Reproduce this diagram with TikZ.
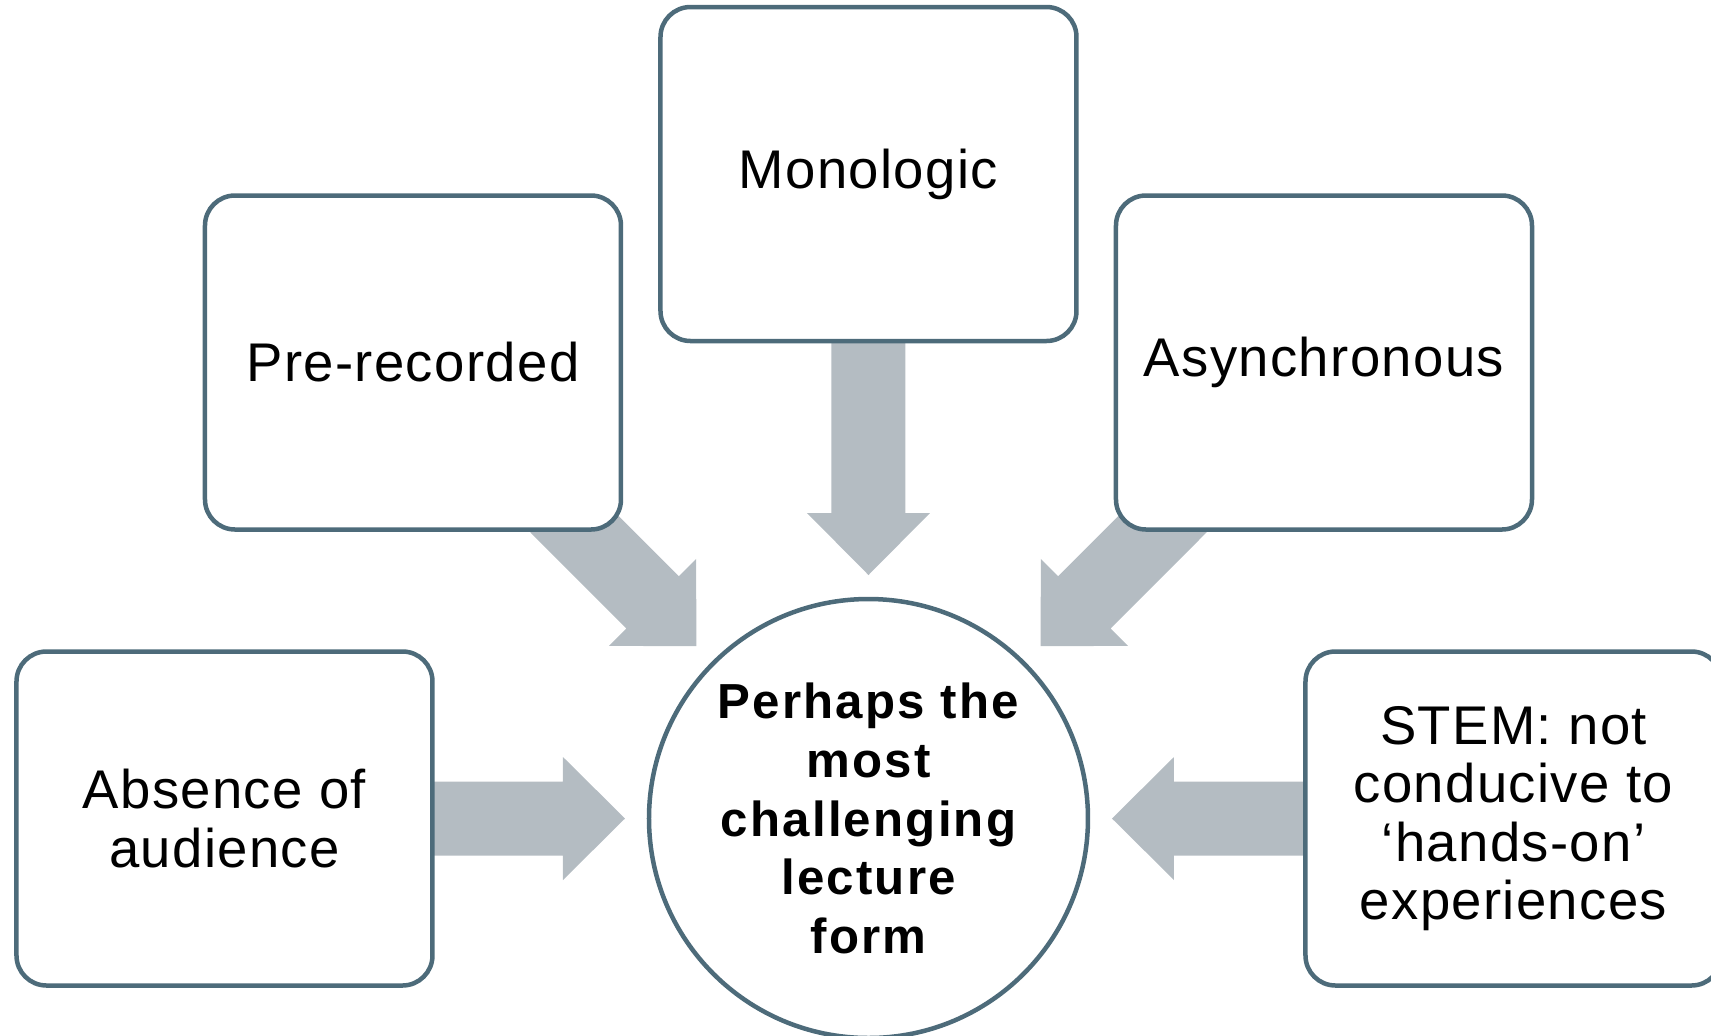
\documentclass[tikz,border=0pt]{standalone}
\usepackage{fontspec}
\setmainfont{Liberation Sans}[LetterSpace=2.5, BoldFeatures={LetterSpace=4.5}]
\usetikzlibrary{shapes.geometric, positioning, calc, backgrounds}
\definecolor{edgeblue}{HTML}{4D6B7A}
\definecolor{arrowgrey}{HTML}{B4BCC2}
\tikzstyle{box} = [rectangle, rounded corners=0.3cm, minimum width=4.16cm, minimum height=3.34cm, align=center, draw=edgeblue, line width=0.045cm, fill=white, font=\fontsize{15.5}{16.6}\selectfont]
\tikzstyle{hub} = [circle, minimum size=4.39cm, inner sep=0pt, align=center, draw=edgeblue, line width=0.045cm, fill=white, font=\fontsize{14}{16.75}\selectfont\bfseries]
\tikzstyle{fatarrow} = [fill=arrowgrey]

\begin{document}
\begin{tikzpicture}[on grid]

\clip (-8.685,-2.165) rectangle (8.425,8.185);

% Centre
\node (hub) [hub] at (0,0) {Perhaps the\\most\\challenging\\lecture\\form};

% Surrounding features
\node (monologic) [box, above=6.445cm of hub] {Monologic};
\node (prerec) [box, above left=4.56cm and 4.555cm of hub] {Pre-recorded};
\node (async) [box, above right=4.56cm and 4.555cm of hub] {Asynchronous};
\node (absence) [box, left=6.44cm of hub] {Absence of\\audience};
\node (stem) [box, right=6.45cm of hub] {STEM: not\\conducive to\\`hands-on'\\experiences};

% Arrows
\begin{pgfonlayer}{background}
\foreach \src in {monologic, prerec, async, absence, stem}
  \fill [fatarrow]
    ($(hub.center)!6cm!(\src.center)!0.37cm!90:(hub.center)$) --
    ($(hub.center)!3.055cm!(\src.center)!0.37cm!90:(hub.center)$) --
    ($(hub.center)!3.055cm!(\src.center)!0.615cm!90:(hub.center)$) --
    ($(hub.center)!2.435cm!(\src.center)$) --
    ($(hub.center)!3.055cm!(\src.center)!0.615cm!-90:(hub.center)$) --
    ($(hub.center)!3.055cm!(\src.center)!0.37cm!-90:(hub.center)$) --
    ($(hub.center)!6cm!(\src.center)!0.37cm!-90:(hub.center)$) -- cycle;
\end{pgfonlayer}

\end{tikzpicture}
\end{document}
